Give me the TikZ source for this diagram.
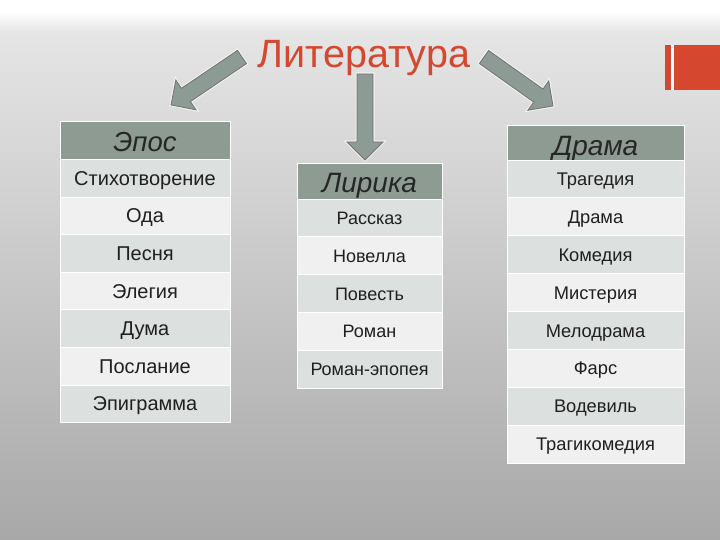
\documentclass[tikz,border=0pt]{standalone}
\usepackage{fontspec}
\setmainfont{Liberation Sans}
\usetikzlibrary{calc}

\definecolor{headgrey}{HTML}{8E9B93}
\definecolor{rowdark}{HTML}{DCE0DE}
\definecolor{rowlight}{HTML}{F0F0F0}
\definecolor{titlered}{HTML}{D5472E}
\definecolor{arrowgrey}{HTML}{8C9B93}
\definecolor{bgtop}{HTML}{E5E5E5}
\definecolor{bgmid}{HTML}{C0C0C0}
\definecolor{bgbot}{HTML}{A8A8A8}

\tikzset{
  cell/.style={draw=white, line width=0.8pt, inner sep=0pt, minimum height=37.6pt,
    text height=13pt, text depth=0pt, text=black!88, font=\fontsize{18}{20}\selectfont},
  headcell/.style={cell, fill=headgrey, text height=25pt, text=black!85},
  bigarrow/.style={fill=arrowgrey, draw=black!55, line width=0.8pt, line join=miter,
    preaction={draw=white, line width=3pt, opacity=0.6}}
}

% block arrow from #1 (tail) to #2 (tip)
\newcommand{\bigarrow}[2]{%
  \coordinate (h) at ($(#2)!18pt!(#1)$);
  \filldraw[bigarrow] ($(#1)!8pt!90:(#2)$) -- ($(h)!8pt!-90:(#1)$)
    -- ($(h)!18pt!-90:(#1)$) -- (#2) -- ($(h)!18pt!90:(#1)$)
    -- ($(h)!8pt!90:(#1)$) -- ($(#1)!8pt!-90:(#2)$) -- cycle;}

\begin{document}
\begin{tikzpicture}[x=1pt,y=-1pt]
  \useasboundingbox (0,0) rectangle (720,540);
  \fill[white] (0,0) rectangle (720,540);
  \shade[top color=white, bottom color=bgtop] (0,12) rectangle (720,32);
  \shade[top color=bgtop, middle color=bgmid, bottom color=bgbot] (0,32) rectangle (720,540);

  \fill[titlered] (665,45) rectangle (671,90);
  \fill[white] (671,45) rectangle (674,90);
  \fill[titlered] (674,45) rectangle (720,90);

  \coordinate (to-epos) at (171,105);
  \coordinate (from-epos) at (242,57);
  \coordinate (to-lirika) at (365,160);
  \coordinate (from-lirika) at (365,74);
  \coordinate (to-drama) at (553,106);
  \coordinate (from-drama) at (484,57);
  \bigarrow{from-epos}{to-epos}
  \bigarrow{from-lirika}{to-lirika}
  \bigarrow{from-drama}{to-drama}

  \node[anchor=base, text=titlered, inner sep=0pt, font=\fontsize{39.5}{42}\selectfont] (lit) at (364,68) {Литература};

  % Эпос
  \node[headcell, minimum width=170pt, text height=22pt, font=\fontsize{27.5}{30}\itshape] (epos) at (145,140.5) {Эпос};
  \foreach \txt [count=\i] in {Стихотворение, Ода, Песня, Элегия, Дума, Послание, Эпиграмма} {
    \ifodd\i \def\rs{rowdark}\else \def\rs{rowlight}\fi
    \node[cell, fill=\rs, minimum width=170pt, text height=14pt, font=\fontsize{20}{22}\selectfont] (epos-\i) at (145,{140.6+37.6*\i}) {\txt};
  }

  % Лирика
  \node[headcell, minimum width=145pt, minimum height=36pt, text height=23pt, font=\fontsize{28}{30}\itshape] (lirika) at (369.5,181) {Лирика};
  \foreach \txt [count=\i] in {Рассказ, Новелла, Повесть, Роман, Роман-эпопея} {
    \ifodd\i \def\rs{rowdark}\else \def\rs{rowlight}\fi
    \node[cell, fill=\rs, minimum width=145pt, minimum height=37.8pt] (lirika-\i) at (369.5,{180.1+37.8*\i}) {\txt};
  }

  % Драма
  \node[headcell, minimum width=177pt, minimum height=35pt, text height=26pt, font=\fontsize{28}{30}\itshape] (drama) at (595.5,142.5) {Драма};
  \foreach \txt [count=\i] in {Трагедия, Драма, Комедия, Мистерия, Мелодрама, Фарс, Водевиль, Трагикомедия} {
    \ifodd\i \def\rs{rowdark}\else \def\rs{rowlight}\fi
    \node[cell, fill=\rs, minimum width=177pt, minimum height=37.9pt, font=\fontsize{18.3}{20}\selectfont] (drama-\i) at (595.5,{141.05+37.9*\i}) {\txt};
  }
\end{tikzpicture}
\end{document}
